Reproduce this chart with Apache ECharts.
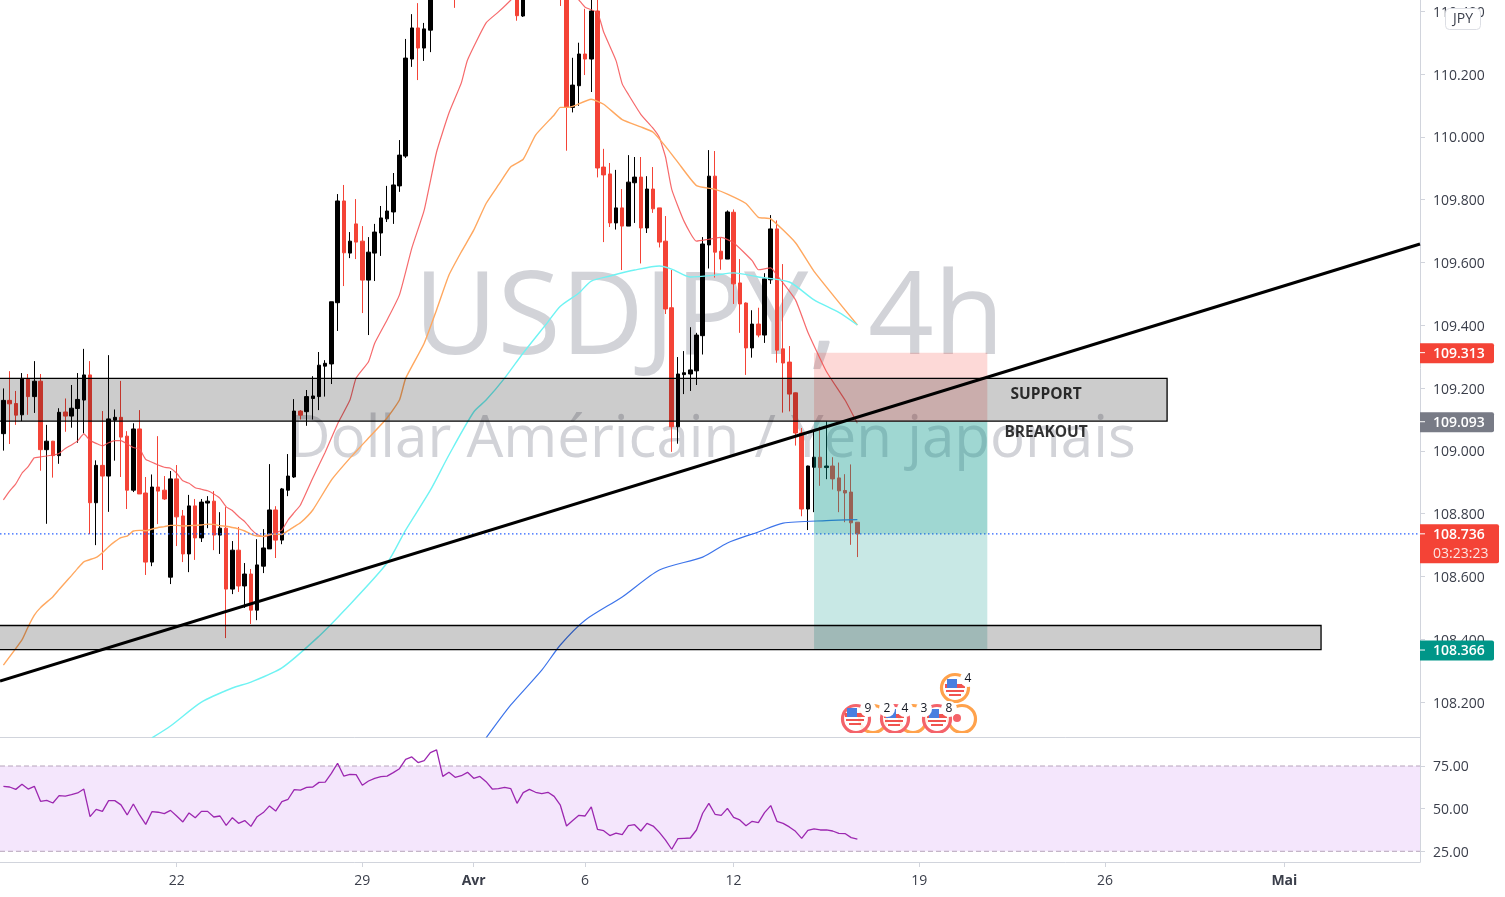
<!DOCTYPE html>
<html><head><meta charset="utf-8">
<style>html,body{margin:0;padding:0;background:#fff}#c{width:1505px;height:897px}</style>
<script src="https://cdn.jsdelivr.net/npm/echarts@6/dist/echarts.min.js"></script>
</head><body><div id="c"></div>
<script>
const opens=[109.055,109.161,109.151,109.115,109.229,109.173,109.222,109.004,109.031,108.985,
109.124,109.111,109.135,109.162,109.242,108.835,108.954,108.920,109.098,109.107,
109.047,108.875,109.070,108.866,108.646,108.885,108.875,108.598,108.911,108.793,
108.672,108.825,108.723,108.834,108.840,108.732,108.754,108.560,108.684,108.570,
108.608,108.493,108.633,108.688,108.812,108.716,108.875,108.917,109.127,109.125,
109.167,109.173,109.270,109.277,109.472,109.796,109.630,109.723,109.668,109.544,
109.630,109.694,109.739,109.761,109.844,109.939,110.248,110.347,110.283,110.340,
110.48,110.56,110.62,110.62,110.54,110.70,110.78,110.70,110.62,110.58,
110.66,110.70,110.62,110.56,110.385,110.52,110.60,110.66,110.58,110.64,
110.60,110.50,110.094,110.163,110.264,110.248,110.401,109.904,109.882,109.726,
109.774,109.716,109.854,109.872,109.710,109.834,109.774,109.668,109.456,109.077,
109.243,109.245,109.255,109.367,109.656,109.875,109.636,109.611,109.760,109.535,
109.471,109.328,109.404,109.369,109.545,109.707,109.325,109.283,109.185,109.057,
108.815,108.948,108.980,108.947,108.952,108.914,108.874,108.869,108.773];
const closes=[109.161,109.150,109.114,109.231,109.173,109.222,109.004,109.031,108.985,109.123,
109.111,109.136,109.164,109.242,108.835,108.954,108.920,109.102,109.107,109.044,
108.875,109.070,108.863,108.646,108.885,108.872,108.847,108.911,108.790,108.672,
108.825,108.723,108.837,108.840,108.732,108.754,108.560,108.684,108.570,108.608,
108.493,108.637,108.691,108.812,108.716,108.879,108.920,109.127,109.114,109.173,
109.175,109.273,109.279,109.475,109.796,109.631,109.668,109.665,109.544,109.633,
109.697,109.742,109.764,109.847,109.942,110.251,110.347,110.283,110.344,110.48,
110.56,110.62,110.55,110.54,110.70,110.78,110.70,110.62,110.58,110.66,
110.70,110.62,110.56,110.386,110.52,110.60,110.66,110.58,110.64,110.60,
110.50,110.095,110.165,110.264,110.248,110.401,109.901,109.879,109.726,109.774,
109.716,109.856,109.872,109.710,109.834,109.771,109.665,109.452,109.077,109.245,
109.249,109.258,109.369,109.659,109.875,109.633,109.611,109.761,109.532,109.468,
109.328,109.404,109.369,109.548,109.707,109.321,109.280,109.181,109.057,108.815,
108.952,108.980,108.947,108.952,108.911,108.873,108.866,108.771,108.736];
const highs=[109.199,109.254,109.191,109.248,109.245,109.286,109.245,109.083,109.032,109.136,
109.167,109.210,109.248,109.325,109.286,108.970,109.127,109.305,109.132,109.223,
109.063,109.088,109.130,108.917,108.925,109.047,108.920,108.936,108.955,108.812,
108.860,108.847,108.847,108.856,108.872,108.805,108.821,108.713,108.758,108.643,
108.624,108.719,108.751,108.958,108.824,108.882,108.990,109.165,109.130,109.194,
109.238,109.315,109.289,109.475,109.818,109.847,109.697,109.802,109.716,109.681,
109.723,109.780,109.844,109.885,109.990,110.312,110.391,110.426,110.363,110.53,
110.60,110.66,110.70,110.68,110.75,110.84,110.82,110.74,110.68,110.70,
110.74,110.74,110.66,110.60,110.60,110.64,110.70,110.70,110.68,110.68,
110.66,110.55,110.252,110.300,110.408,110.44,110.44,109.962,109.917,109.895,
109.834,109.942,109.936,109.936,109.875,109.904,109.774,109.748,109.576,109.299,
109.318,109.394,109.376,109.681,109.958,109.955,109.678,109.766,109.769,109.611,
109.473,109.448,109.456,109.566,109.751,109.734,109.595,109.334,109.186,109.073,
108.953,109.065,109.077,109.094,108.980,108.963,108.926,108.957,108.773];
const lows=[109.001,109.022,109.083,109.095,109.115,109.121,108.937,108.768,108.915,108.959,
109.061,109.074,109.026,109.056,108.735,108.700,108.621,108.806,108.969,108.917,
108.815,108.869,108.863,108.605,108.633,108.767,108.844,108.576,108.697,108.646,
108.614,108.653,108.710,108.754,108.684,108.672,108.404,108.544,108.551,108.500,
108.449,108.461,108.611,108.688,108.659,108.703,108.856,108.914,109.100,109.080,
109.100,109.130,109.173,109.213,109.382,109.525,109.614,109.611,109.439,109.369,
109.541,109.621,109.729,109.723,109.825,109.933,110.223,110.181,110.242,110.270,
110.46,110.50,110.48,110.411,110.50,110.66,110.66,110.58,110.54,110.54,
110.62,110.58,110.50,110.370,110.382,110.47,110.56,110.54,110.54,110.50,
110.417,109.956,110.078,110.099,110.197,110.143,109.871,109.665,109.713,109.705,
109.576,109.716,109.726,109.597,109.694,109.758,109.648,109.436,108.997,109.023,
109.181,109.191,109.210,109.307,109.581,109.552,109.577,109.611,109.468,109.376,
109.242,109.297,109.362,109.344,109.532,109.281,109.122,109.126,109.017,108.792,
108.748,108.805,108.889,108.910,108.877,108.805,108.773,108.701,108.662];
const maRed=[[0,108.844],[1,108.872],[2,108.895],[3,108.929],[4,108.950],[5,108.978],[6,108.981],[8,108.987],[9,108.992],[10,109.008],[11,109.019],[12,109.032],[13,109.054],[14,109.033],[15,109.024],[16,109.016],[17,109.026],[18,109.033],[19,109.033],[20,109.022],[21,109.011],[22,109.006],[23,108.973],[24,108.964],[25,108.955],[26,108.948],[27,108.945],[28,108.929],[29,108.905],[30,108.897],[31,108.883],[32,108.878],[33,108.873],[34,108.863],[35,108.849],[36,108.822],[37,108.810],[38,108.791],[39,108.775],[40,108.751],[41,108.734],[42,108.727],[43,108.732],[44,108.740],[45,108.748],[46,108.780],[47,108.804],[48,108.828],[50,108.914],[52,108.996],[54,109.086],[56,109.162],[57,109.232],[59,109.284],[60,109.343],[62,109.417],[64,109.497],[66,109.646],[68,109.767],[70,109.952],[72,110.076],[74,110.172],[75,110.245],[78,110.363],[80,110.398],[82,110.436],[86,110.52],[90,110.50],[93,110.436],[94,110.413],[96,110.396],[97,110.334],[99,110.243],[100,110.169],[101,110.135],[103,110.072],[105,110.027],[106,109.998],[107,109.936],[108,109.833],[110,109.731],[112,109.668],[114,109.674],[116,109.680],[118,109.663],[121,109.606],[122,109.577],[124,109.583],[125,109.560],[128,109.481],[130,109.378],[133,109.253],[136,109.162],[138,109.088]];
const maOrange=[[0,108.318],[3,108.398],[4,108.440],[5,108.477],[6,108.501],[8,108.536],[9,108.559],[10,108.581],[11,108.603],[12,108.626],[13,108.647],[15,108.661],[16,108.676],[17,108.695],[18,108.711],[19,108.724],[20,108.729],[21,108.745],[22,108.747],[23,108.746],[24,108.751],[25,108.756],[26,108.759],[27,108.763],[28,108.763],[29,108.761],[30,108.762],[31,108.763],[32,108.764],[33,108.767],[34,108.766],[35,108.762],[36,108.760],[37,108.756],[38,108.752],[39,108.745],[40,108.735],[41,108.729],[42,108.728],[43,108.734],[44,108.735],[45,108.734],[46,108.746],[47,108.759],[48,108.771],[50,108.812],[53,108.907],[56,108.977],[59,109.041],[62,109.105],[64,109.162],[65,109.231],[68,109.343],[70,109.449],[72,109.560],[74,109.634],[76,109.703],[78,109.788],[80,109.847],[82,109.905],[84,109.929],[86,110.006],[89,110.070],[90,110.094],[91,110.094],[92,110.097],[95,110.120],[97,110.104],[100,110.055],[103,110.032],[105,110.015],[107,109.970],[109,109.919],[112,109.845],[115,109.833],[117,109.818],[120,109.788],[122,109.744],[124,109.739],[128,109.663],[131,109.572],[138,109.401]];
const maCyan=[[24,108.086],[27,108.124],[32,108.200],[37,108.245],[40,108.264],[45,108.309],[51,108.410],[55,108.490],[62,108.643],[65,108.748],[69,108.875],[72,108.987],[76,109.124],[78,109.162],[81,109.232],[84,109.312],[88,109.411],[90,109.461],[93,109.503],[95,109.541],[98,109.557],[102,109.576],[106,109.589],[108,109.579],[111,109.554],[115,109.560],[118,109.567],[122,109.554],[127,109.538],[131,109.481],[135,109.441],[138,109.401]];
const maBlue=[[78,108.086],[82,108.191],[87,108.302],[90,108.382],[94,108.461],[100,108.535],[106,108.621],[113,108.662],[117,108.707],[122,108.742],[126,108.770],[133,108.778],[138,108.781]];
const rsi=[63.1,62.7,61.3,64.3,61.5,63.1,54.3,54.9,53.3,57.6,57.4,58.2,59.2,61.5,45.3,49.6,48.4,54.7,54.7,52.2,
46.3,52.7,46.3,40.8,48.2,47.9,47.1,49.0,45.7,42.2,47.5,44.7,48.4,48.4,45.1,45.7,40.2,44.7,41.4,43.0,
39.6,45.3,47.7,51.6,48.6,54.1,55.5,61.1,60.9,62.5,62.7,65.4,65.6,70.7,76.6,69.1,70.1,69.9,63.7,66.2,
67.8,68.8,69.1,71.1,73.4,78.9,80.3,77.0,78.1,82.8,84.4,68.9,71.3,68.4,69.3,71.3,67.8,68.9,65.8,61.5,
61.7,62.5,61.7,53.1,59.4,61.3,59.6,58.8,59.6,57.2,52.0,39.8,43.0,46.1,45.7,51.0,37.9,37.1,34.2,35.7,
34.8,40.0,40.6,36.9,41.4,39.8,36.1,31.6,26.2,32.4,32.6,32.8,37.5,47.3,53.1,46.7,46.1,50.2,44.9,43.4,
40.0,42.6,41.8,47.7,51.8,42.6,41.4,39.3,36.7,32.6,37.3,38.1,37.5,37.5,36.9,35.5,35.4,33.0,32.2];
const trendLine=[[-0.55,108.267],[228.92,109.659]];
const grayZones=[[-2,188.05,109.095,109.231],[-2,212.93,108.367,108.444]];
const stopZone=[[131,159,109.093,109.313]];
const darkTarget=[[131,159,108.736,109.093]];
const lightTarget=[[131,159,108.366,108.736]];
const rsiBand=[[-2,230,25,75]];
const priceTicks=[108.2,108.4,108.6,108.8,109.0,109.2,109.4,109.6,109.8,110.0,110.2,110.4];
const rsiTicks=[25,50,75];
const timeTickPos=[28,58,76,94,118,148,178,207];
const timeTickLabels=['22','29','Avr','6','12','19','26','Mai'];
const currentPrice=108.736;
const noteLabels=[[168.5,109.180,'SUPPORT'],[168.5,109.058,'BREAKOUT']];
const priceTags=[[109.313,'#f44336',''],[109.093,'#787b86',''],[108.736,'#f44336','03:23:23'],[108.366,'#009688','']];

const font='"Open Sans", sans-serif';
const axisColor='#d1d4dc', textColor='#3a3e4a';
const chart=echarts.init(document.getElementById('c'),null,{renderer:'canvas'});

function rectSeries(data,fill,opts){
  opts=opts||{};
  return {type:'custom',xAxisIndex:opts.pane||0,yAxisIndex:opts.pane||0,z:opts.z||4,silent:true,clip:true,
    encode:{x:[0,1],y:[2,3]},data:data,
    renderItem:function(p,api){
      const a=api.coord([api.value(0),api.value(3)]), b=api.coord([api.value(1),api.value(2)]);
      const shape={x:a[0],y:a[1],width:b[0]-a[0],height:b[1]-a[1]};
      return {type:'rect',shape:shape,style:{fill:fill,stroke:opts.stroke||null,lineWidth:opts.lineWidth||0}};
    }};
}
function lineSeries(data,color,w,extra){
  return Object.assign({type:'line',data:data,showSymbol:false,symbol:'none',silent:true,clip:true,animation:false,
    lineStyle:{color:color,width:w},z:3},extra||{});
}
const xFmt=function(v){
  const l=timeTickLabels[timeTickPos.indexOf(Math.round(v))];
  if(l==='Avr'||l==='Mai') return '{b|'+l+'}';
  return l===undefined?'':l;
};
const yRich={a:{fontFamily:font,fontSize:14,color:textColor,padding:[3,0,0,0]}};
const option={
  animation:false,backgroundColor:'#fff',
  textStyle:{fontFamily:font},
  grid:[{left:0,top:0,width:1420,height:737,show:false},{left:0,top:737,width:1420,height:125,show:false}],
  xAxis:[
    {type:'value',gridIndex:0,min:-0.55,max:228.92,splitLine:{show:false},axisLine:{show:true,onZero:false,lineStyle:{color:axisColor}},axisTick:{show:false},axisLabel:{show:false}},
    {type:'value',gridIndex:1,min:-0.55,max:228.92,splitLine:{show:false},axisLine:{show:true,onZero:false,lineStyle:{color:axisColor}},
     axisTick:{show:true,length:5,lineStyle:{color:axisColor},customValues:timeTickPos},
     axisLabel:{show:true,margin:12,fontFamily:font,fontSize:14,color:textColor,customValues:timeTickPos,formatter:xFmt,hideOverlap:false,
       rich:{b:{fontFamily:font,fontSize:14,fontWeight:'bold',color:textColor}}}}
  ],
  yAxis:[
    {type:'value',gridIndex:0,position:'right',min:108.089,max:110.436,scale:true,splitLine:{show:false},
     axisLine:{show:true,onZero:false,lineStyle:{color:axisColor}},
     axisTick:{show:true,length:5,lineStyle:{color:axisColor},customValues:priceTicks},
     axisLabel:{show:true,margin:13,rich:yRich,customValues:priceTicks,formatter:v=>'{a|'+v.toFixed(3)+'}'}},
    {type:'value',gridIndex:1,position:'right',min:18.73,max:92,scale:true,splitLine:{show:false},
     axisLine:{show:true,onZero:false,lineStyle:{color:axisColor}},
     axisTick:{show:true,length:5,lineStyle:{color:axisColor},customValues:rsiTicks},
     axisLabel:{show:true,margin:13,rich:yRich,customValues:rsiTicks,formatter:v=>'{a|'+v.toFixed(2)+'}'}}
  ],
  series:[
    {type:'candlestick',xAxisIndex:0,yAxisIndex:0,z:2,silent:true,clip:true,barWidth:4,
     encode:{x:0,y:[1,2,3,4]},
     data:opens.map((o,i)=>[i,o,closes[i],lows[i],highs[i]]),
     itemStyle:{color:'#000000',color0:'#f44336',borderColor:'#000000',borderColor0:'#f44336',borderWidth:1}},
    lineSeries(maRed,'rgba(244,80,82,0.85)',1.2,{smooth:0.15}),
    lineSeries(maOrange,'#ffa860',1.4,{smooth:0.15}),
    lineSeries(maCyan,'#6ff3f3',1.4,{smooth:0.25}),
    lineSeries(maBlue,'#3d74ea',1.2,{smooth:0.25}),
    rectSeries(stopZone,'rgba(244,67,54,0.2)',{z:4}),
    rectSeries(darkTarget,'rgba(0,150,136,0.376)',{z:4}),
    rectSeries(lightTarget,'rgba(0,150,136,0.215)',{z:4}),
    rectSeries(grayZones,'rgba(0,0,0,0.2)',{z:5,stroke:'#000',lineWidth:1.3}),
    lineSeries(trendLine,'#000000',3,{z:6}),
    lineSeries([[-0.55,currentPrice],[228.92,currentPrice]],'#2962ff',1,{z:3,lineStyle:{color:'#2962ff',width:1.4,type:[1.5,2.5]}}),
    {type:'scatter',xAxisIndex:0,yAxisIndex:0,z:7,silent:true,symbolSize:0,
     data:noteLabels.map(n=>({value:[n[0],n[1]],label:{show:true,formatter:n[2],position:'inside',fontFamily:font,fontSize:15.5,fontWeight:700,color:'#000'}}))},
    rectSeries(rsiBand,'#f4e6fc',{pane:1,z:1}),
    lineSeries([[-0.55,75],[228.92,75]],'#b6a4bb',1,{xAxisIndex:1,yAxisIndex:1,z:2,lineStyle:{color:'#b6a4bb',width:1,type:[5,3]}}),
    lineSeries([[-0.55,25],[228.92,25]],'#b6a4bb',1,{xAxisIndex:1,yAxisIndex:1,z:2,lineStyle:{color:'#b6a4bb',width:1,type:[5,3]}}),
    lineSeries(rsi.map((v,i)=>[i,v]),'#9c27b0',1.3,{xAxisIndex:1,yAxisIndex:1,z:3})
  ]
};
chart.setOption(option);

/* overlay text and tags, placed from the price scale */
const g=[];
g.push({type:'text',z:0,zlevel:0,silent:true,style:{x:709,y:321,text:'USDJPY, 4h',align:'center',verticalAlign:'middle',font:'115px '+font,fill:'#d2d3d8'}});
g.push({type:'text',z:0,zlevel:0,silent:true,style:{x:712,y:440,text:'Dollar Américain / Yen japonais',align:'center',verticalAlign:'middle',font:'58.3px '+font,fill:'#d2d3d8'}});

priceTags.forEach(t=>{
  const y=chart.convertToPixel({yAxisIndex:0},t[0]);
  const two=!!t[2];
  const w=two?79:74, h=two?39:20;
  g.push({type:'rect',z:20,silent:true,shape:{x:1420,y:y-9.5,width:w,height:h,r:[0,2,2,0]},style:{fill:t[1]}});
  g.push({type:'rect',z:21,silent:true,shape:{x:1420,y:y-0.5,width:5,height:1},style:{fill:'#fff'}});
  g.push({type:'text',z:21,silent:true,style:{x:1433,y:y+1,text:t[0].toFixed(3),verticalAlign:'middle',font:'600 14px '+font,fill:'#fff'}});
  if(two) g.push({type:'text',z:21,silent:true,style:{x:1433,y:y+20,text:t[2],verticalAlign:'middle',font:'14px '+font,fill:'rgba(255,255,255,0.85)'}});
});
/* JPY currency button */
g.push({type:'rect',z:22,silent:true,shape:{x:1445.5,y:8.5,width:35,height:21,r:4},style:{fill:'#fff',stroke:'#dcdee4',lineWidth:1}});
g.push({type:'text',z:23,silent:true,style:{x:1463,y:19,text:'JPY',align:'center',verticalAlign:'middle',font:'14px '+font,fill:textColor}});

/* economic-event badges */
function ring(x,y,c){g.push({type:'circle',z:10,silent:true,shape:{cx:x,cy:y,r:13.5},style:{fill:'rgba(255,255,255,0.85)',stroke:c,lineWidth:3.2}});}
function flag(x,y){
  g.push({type:'rect',z:11,silent:true,shape:{x:x-10,y:y-3,width:20,height:4},style:{fill:'#f1534f'}});
  g.push({type:'rect',z:11,silent:true,shape:{x:x-9,y:y+3,width:18,height:2},style:{fill:'#f1534f'}});
  g.push({type:'rect',z:11,silent:true,shape:{x:x-6,y:y+7,width:12,height:2},style:{fill:'#f1534f'}});
  g.push({type:'rect',z:12,silent:true,shape:{x:x-8,y:y-8,width:10,height:9},style:{fill:'#4a7fe0'}});
}
[[873,'#ffa24c'],[913,'#ffa24c'],[962,'#ffa24c'],[856,'#f4636a'],[895,'#f4636a'],[937,'#f4636a']].forEach(r=>ring(r[0],719,r[1]));
flag(855,716);flag(894,717);flag(937,717);
g.push({type:'circle',z:11,silent:true,shape:{cx:957,cy:718,r:4},style:{fill:'#f4636a'}});
ring(955,688,'#ffa24c');flag(955,687);
[[868,709,'9'],[887,709,'2'],[905,709,'4'],[924,709,'3'],[949,709,'8'],[968,679,'4']].forEach(b=>{
  g.push({type:'circle',z:13,silent:true,shape:{cx:b[0],cy:b[1],r:8},style:{fill:'#fff'}});
  g.push({type:'text',z:14,silent:true,style:{x:b[0],y:b[1],text:b[2],align:'center',verticalAlign:'middle',font:'12px '+font,fill:'#131722'}});
});
g.push({type:'rect',z:15,silent:true,shape:{x:830,y:733,width:160,height:3.5},style:{fill:'#fff'}});
chart.setOption({graphic:{elements:g}});
</script></body></html>
